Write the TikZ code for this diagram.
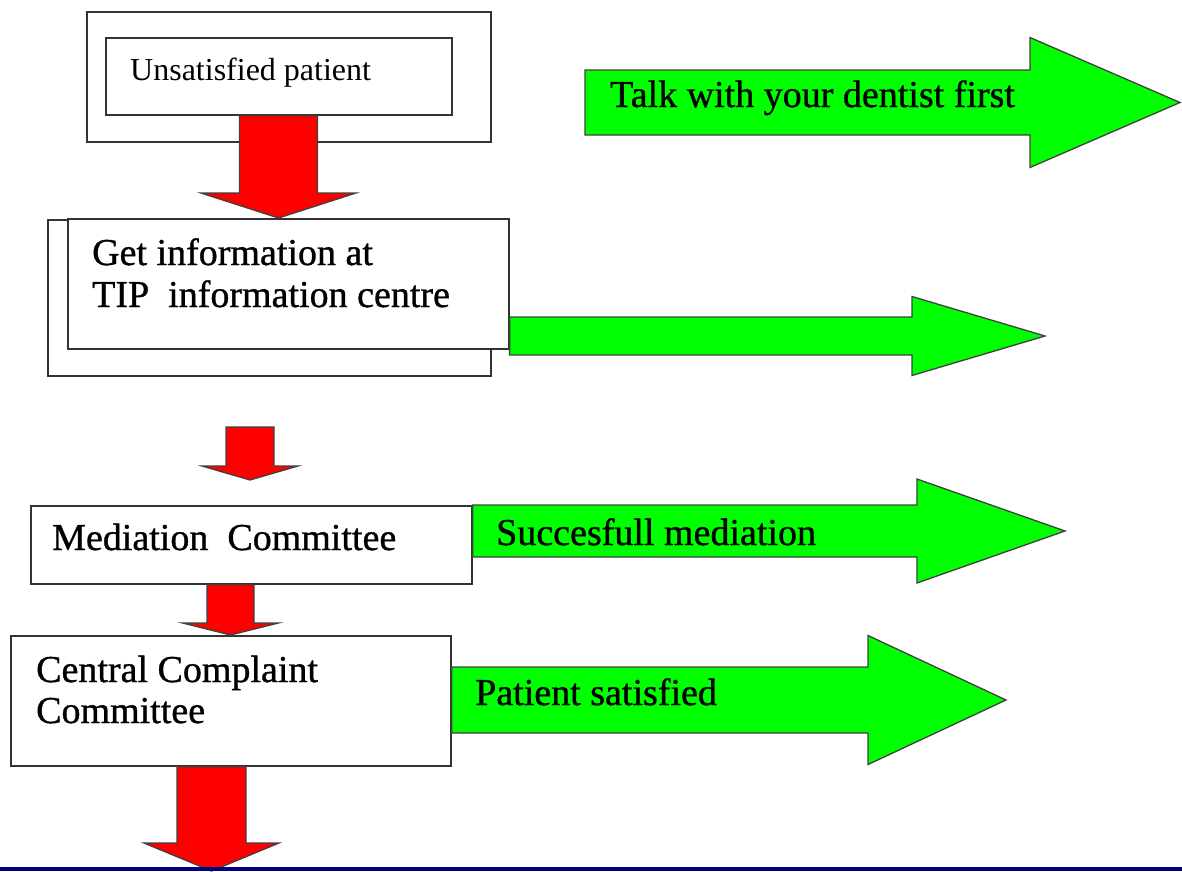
\documentclass[tikz,border=0pt]{standalone}
\usepackage{fontspec}
\setmainfont{Liberation Serif}
\newfontfamily\heavyserif{Liberation Serif}[FakeBold=0.9]
\usetikzlibrary{calc}
\definecolor{limegreen}{RGB}{0,255,0}
\definecolor{slideblue}{RGB}{0,0,120}
\tikzset{
    box/.style={draw=black!80, line width=1.6pt, fill=white, anchor=north west, inner sep=0pt},
    txt/.style={anchor=base west, inner sep=0pt, font=\heavyserif\fontsize{38}{42}\selectfont},
    redarrow/.style={fill=red, draw=black!75, line width=1.3pt},
    greenarrow/.style={fill=limegreen, draw=black!75, line width=1.3pt}
}
% #1 from, #2 to, #3 half shaft, #4 half head, #5 head length
\newcommand{\downblock}[5]{%
    \path[redarrow] let \p1=#1, \p2=#2 in
        (\x1-#3pt,\y1) -- (\x1-#3pt,\y2+#5pt) -- (\x1-#4pt,\y2+#5pt) -- (\x1,\y2)
        -- (\x1+#4pt,\y2+#5pt) -- (\x1+#3pt,\y2+#5pt) -- (\x1+#3pt,\y1) -- cycle;}
\newcommand{\rightblock}[5]{%
    \path[greenarrow] let \p1=#1, \p2=#2 in
        (\x1,\y1+#3pt) -- (\x2-#5pt,\y1+#3pt) -- (\x2-#5pt,\y1+#4pt) -- (\x2,\y1)
        -- (\x2-#5pt,\y1-#4pt) -- (\x2-#5pt,\y1-#3pt) -- (\x1,\y1-#3pt) -- cycle;}
\begin{document}
\begin{tikzpicture}[x=1pt,y=-1pt]
\useasboundingbox (0,0) rectangle (1182,871);
    \node[box, minimum width=404pt, minimum height=130pt] (outer) at (86,11) {};
    \node[box, minimum width=346pt, minimum height=77pt] (patient) at (105,37) {};
    \node[box, minimum width=443pt, minimum height=156pt] (infoback) at (47,219) {};
    \node[box, minimum width=441pt, minimum height=130pt] (info) at (67,218) {};
    \node[box, minimum width=441pt, minimum height=78pt] (med) at (30,505) {};
    \node[box, minimum width=440pt, minimum height=130pt] (ccc) at (10,635) {};

    \coordinate (gaptop) at (250,427);
    \coordinate (gapend) at (250,480);
    \coordinate (bottomend) at (211.5,871);
    \coordinate (talkstart) at (585,102.5);
    \coordinate (talkend) at (1180,102.5);
    \coordinate (infoend) at (1045,336);
    \coordinate (medend) at (1065,531);
    \coordinate (cccend) at (1006,700);

    \downblock{(278.5,0 |- patient.south)}{(278.5,0 |- info.north)}{39}{77.5}{25}
    \downblock{(gaptop)}{(gapend)}{24}{48}{14}
    \downblock{(230.5,0 |- med.south)}{(230.5,0 |- ccc.north)}{23.5}{48}{12}
    \downblock{(211.5,0 |- ccc.south)}{(bottomend)}{34.5}{67.5}{28}

    \rightblock{(talkstart)}{(talkend)}{32.5}{65}{150}
    \rightblock{(info.east |- infoend)}{(infoend)}{19}{39.5}{133}
    \rightblock{(med.east |- medend)}{(medend)}{26}{52}{148}
    \rightblock{(ccc.east |- cccend)}{(cccend)}{33}{64.5}{138}

    \node[txt, font=\fontsize{32}{36}\selectfont] (patienttxt) at (130,80) {Unsatisfied patient};
    \node[txt] (info1) at (92,265) {Get information at};
    \node[txt] (info2) at (92,307) {TIP\ \ information centre};
    \node[txt] (medtxt) at (52,550) {Mediation\ \ Committee};
    \node[txt] (ccc1) at (36,682) {Central Complaint};
    \node[txt] (ccc2) at (36,723) {Committee};
    \node[txt] (talktxt) at (610,107) {Talk with your dentist first};
    \node[txt] (succtxt) at (496,545) {Succesfull mediation};
    \node[txt] (satisfiedtxt) at (475,705) {Patient satisfied};

    \fill[slideblue] (0,867) rectangle (1182,871);
\end{tikzpicture}
\end{document}
